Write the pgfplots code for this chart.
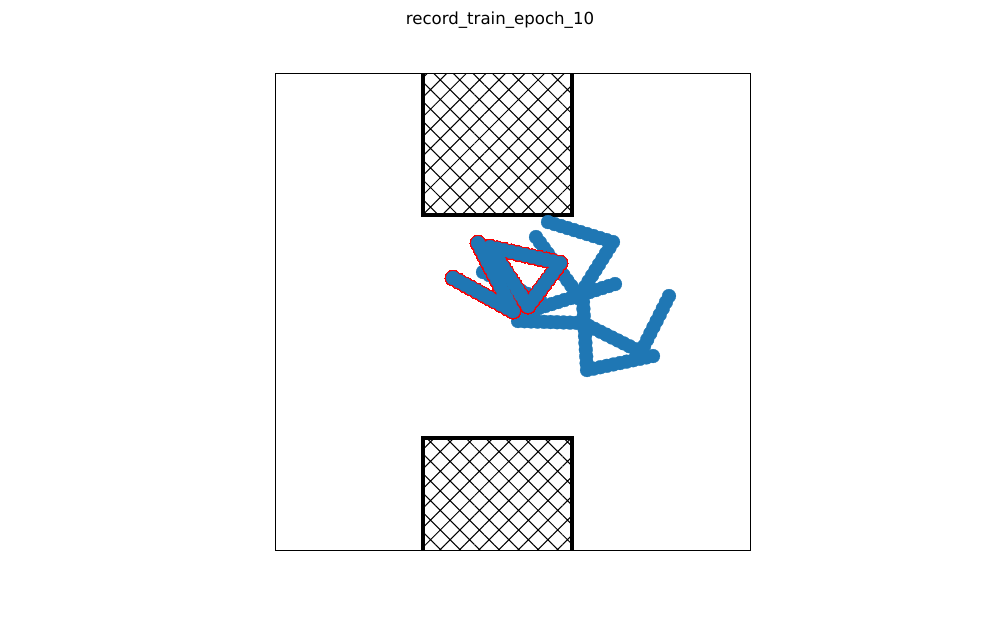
\documentclass[border=0pt]{standalone}
\usepackage{pgfplots}
\pgfplotsset{compat=1.18}
\usepackage{pgfplotstable}
\usepackage{fontspec}
\setmainfont{DejaVu Sans}
\usetikzlibrary{patterns.meta}
\definecolor{c0}{HTML}{1F77B4}

% red-edged part of the trajectory (pixel positions)
\pgfplotstableread{
x y
453 278
459 281.3
465 284.6
471 287.9
477 291.2
483 294.5
489 297.8
495 301.1
501 304.4
507 307.7
513 311
509.8 304.8
506.6 298.6
503.5 292.5
500.3 286.3
497.1 280.1
493.9 273.9
490.7 267.7
487.5 261.5
484.4 255.4
481.2 249.2
478 243
490 247
497 248.6
504 250.2
511 251.8
518 253.4
525 255
532 256.6
539 258.2
546 259.8
553 261.4
560 263
556 268.4
552 273.8
548 279.1
544 284.5
540 289.9
536 295.3
532 300.6
528 306
524.4 300.4
520.8 294.8
517.2 289.2
513.6 283.6
510 278
506.4 272.4
502.8 266.8
499.2 261.2
495.6 255.6
492 250
}\redpath

\pgfplotsset{
  traj/.style={c0, line width=1.5pt, mark=*, mark size=5pt,
    mark options={solid, fill=c0, draw=c0, line width=0.2pt}},
  hatchfill/.style={draw=none, pattern color=black,
    pattern={Hatch[angle=45, distance=10pt, line width=0.75pt]}},
  boxedge/.style={draw=black, line width=2.4pt},
}

\begin{document}
\begin{tikzpicture}
\begin{axis}[
  name=ax,
  scale only axis,
  width=343.3pt, height=344.7pt,
  xmin=275, xmax=750, ymin=73, ymax=550,
  y dir=reverse,
  ticks=none,
  axis on top,
  axis line style={line width=0.6pt},
]
% obstacles
\addplot[hatchfill] coordinates {(423,20) (423,215) (572,215) (572,20)} -- cycle;
\addplot[boxedge] coordinates {(423,20) (423,215) (572,215) (572,20)} -- cycle;
\addplot[hatchfill] coordinates {(423,600) (423,438) (572,438) (572,600)} -- cycle;
\addplot[boxedge] coordinates {(423,600) (423,438) (572,438) (572,600)} -- cycle;

% trajectory
\addplot[traj] coordinates {
  (548,222) (554.5,224) (561,226) (567.5,228) (574,230) (580.5,232)
  (587,234) (593.5,236) (600,238) (606.5,240) (613,242)
  (609.5,247.6) (606,253.2) (602.5,258.8) (599,264.4) (595.5,270)
  (592,275.6) (588.5,281.2) (585,286.8) (581.5,292.4) (578,298)
};
\addplot[traj] coordinates {
  (536,237) (539.9,242.4) (543.8,247.8) (547.8,253.3) (551.7,258.7)
  (555.6,264.1) (559.5,269.5) (563.4,274.9) (567.3,280.3) (571.3,285.8)
  (575.2,291.2) (579.1,296.6) (583,302)
  (583.4,308.8) (583.8,315.6) (584.2,322.4) (584.6,329.2) (585,336)
  (585.4,342.8) (585.8,349.6) (586.2,356.4) (586.6,363.2) (587,370)
  (593.6,368.6) (600.2,367.2) (606.8,365.8) (613.4,364.4) (620,363)
  (626.6,361.6) (633.2,360.2) (639.8,358.8) (646.4,357.4) (653,356)
};
\addplot[traj] coordinates {
  (669,296) (665.9,302.2) (662.8,308.4) (659.7,314.7) (656.6,320.9)
  (653.4,327.1) (650.3,333.3) (647.2,339.6) (644.1,345.8) (641,352)
  (635.2,349.1) (629.4,346.2) (623.6,343.3) (617.8,340.4) (612,337.5)
  (606.2,334.6) (600.4,331.7) (594.6,328.8) (588.8,325.9) (583,323)
  (576.5,322.8) (570,322.6) (563.5,322.4) (557,322.2) (550.5,322)
  (544,321.8) (537.5,321.6) (531,321.4) (524.5,321.2) (518,321)
};
\addplot[traj] coordinates {
  (615,284) (608.7,286) (602.3,288) (596,290) (589.7,292) (583.3,294)
  (577,296) (570.7,298) (564.3,300) (558,302) (551.7,304) (545.3,306)
  (539,308) (532.7,310) (526.3,312) (520,314)
};
\addplot[traj] coordinates {
  (483,272) (489.3,275.1) (495.7,278.2) (502,281.3) (508.3,284.4)
  (514.7,287.6) (521,290.7) (527.3,293.8) (533.7,296.9) (540,300)
};

% red-edged points: outline first, then the faces
\addplot[only marks, mark=*, mark size=5.8pt,
  mark options={fill=red, draw=red, line width=0pt}] table {\redpath};
\addplot[traj] table {\redpath};
\end{axis}
\path[shift={(ax.south west)}] (-198.74pt,-49.14pt) rectangle (523.96pt,397.5pt);
\node[font=\fontsize{12}{14}\selectfont, anchor=center]
  at ([shift={(162.6pt,383.0pt)}]ax.south west) {record\_train\_epoch\_10};
\end{tikzpicture}
\end{document}
